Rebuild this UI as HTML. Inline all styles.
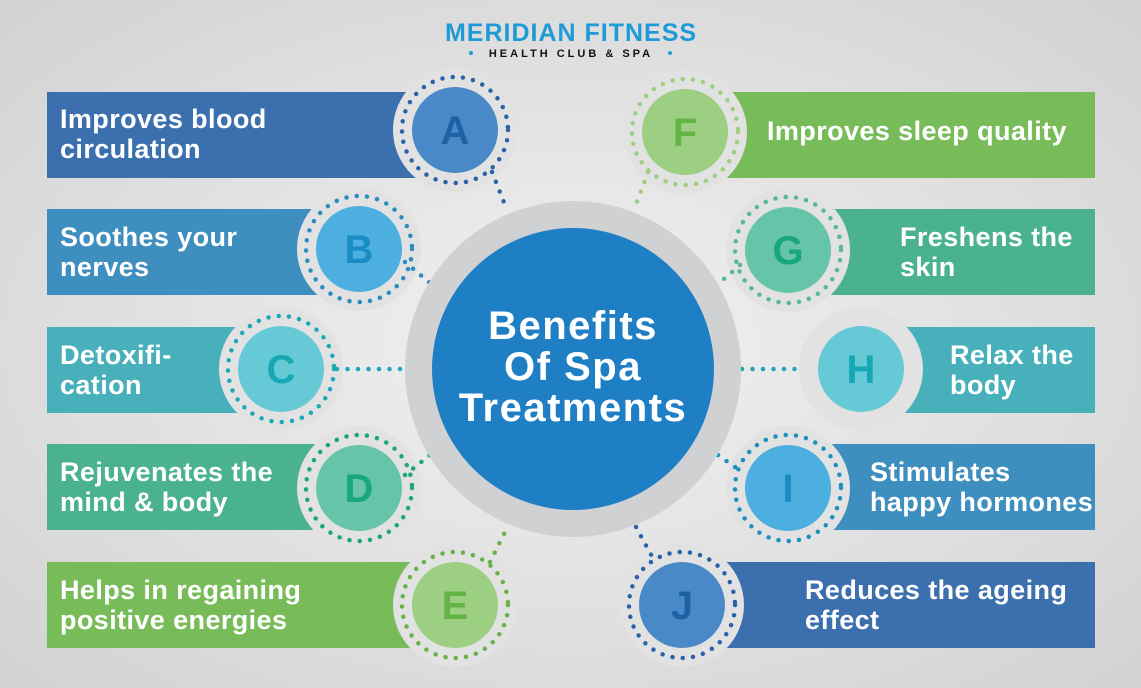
<!DOCTYPE html>
<html><head><meta charset="utf-8"><style>
html,body{margin:0;padding:0;width:1141px;height:688px;overflow:hidden}
svg{display:block}
.t{font-family:"Liberation Sans",sans-serif;font-weight:bold;fill:#fff;font-size:27px;letter-spacing:0.4px}
.L{font-family:"Liberation Sans",sans-serif;font-weight:bold;font-size:40px;text-anchor:middle}
</style></head><body>
<svg width="1141" height="688" viewBox="0 0 1141 688">
<defs>
<radialGradient id="bg" cx="50%" cy="50%" r="70%">
<stop offset="0" stop-color="#f2f2f2"/><stop offset="1" stop-color="#d2d2d2"/>
</radialGradient>
</defs>
<rect width="1141" height="688" fill="url(#bg)"/>
<text x="571" y="41" text-anchor="middle" font-family="Liberation Sans,sans-serif" font-weight="bold" font-size="25" fill="#1f9ad8" letter-spacing="1">MERIDIAN FITNESS</text>
<circle cx="471" cy="53" r="2" fill="#1f9ad8"/><circle cx="670" cy="53" r="2" fill="#1f9ad8"/>
<text x="571" y="57" text-anchor="middle" font-family="Liberation Sans,sans-serif" font-weight="bold" font-size="11" fill="#111" letter-spacing="3">HEALTH CLUB &amp; SPA</text>

<rect x="47" y="92" width="400" height="86" fill="#3b6fae"/>
<rect x="47" y="209" width="300" height="86" fill="#3e8fbf"/>
<rect x="47" y="327" width="230" height="86" fill="#48b0bb"/>
<rect x="47" y="444" width="300" height="86" fill="#4bb28e"/>
<rect x="47" y="562" width="400" height="86" fill="#77bc59"/>
<rect x="700" y="92" width="395" height="86" fill="#77bc59"/>
<rect x="800" y="209" width="295" height="86" fill="#4bb28e"/>
<rect x="870" y="327" width="225" height="86" fill="#48b0bb"/>
<rect x="800" y="444" width="295" height="86" fill="#3e8fbf"/>
<rect x="700" y="562" width="395" height="86" fill="#3b6fae"/>

<g fill="#e2e2e2">
<circle cx="455" cy="130" r="62"/><circle cx="359" cy="249" r="62"/><circle cx="281" cy="369" r="62"/>
<circle cx="359" cy="488" r="62"/><circle cx="455" cy="605" r="62"/>
<circle cx="685" cy="132" r="62"/><circle cx="788" cy="250" r="62"/><circle cx="861" cy="369" r="62"/>
<circle cx="788" cy="488" r="62"/><circle cx="682" cy="605" r="62"/>
</g>

<g fill="none" stroke-width="4.5" stroke-linecap="round" stroke-dasharray="0 10.5">
<path d="M492 172 L507 210" stroke="#2a62a8"/>
<path d="M405 262 L430 283" stroke="#2a8cc0"/>
<path d="M337 369 L405 369" stroke="#1aa9b7"/>
<path d="M405 475 L430 455" stroke="#1aa57f"/>
<path d="M490 562 L507 528" stroke="#66b347"/>
<path d="M648 172 L634 210" stroke="#9ccf80"/>
<path d="M740 265 L717 285" stroke="#55b896"/>
<path d="M742 369 L805 369" stroke="#1aa9b7"/>
<path d="M718 455 L742 472" stroke="#1a8fc0"/>
<path d="M636 527 L655 562" stroke="#2a62a8"/>
</g>

<circle cx="573" cy="369" r="168" fill="#d0d1d3"/>
<circle cx="573" cy="369" r="141" fill="#1f7fc4"/>
<text x="573" y="339" text-anchor="middle" font-family="Liberation Sans,sans-serif" font-weight="bold" font-size="40" letter-spacing="1.5" fill="#fff">Benefits</text>
<text x="573" y="380" text-anchor="middle" font-family="Liberation Sans,sans-serif" font-weight="bold" font-size="40" letter-spacing="1.5" fill="#fff">Of Spa</text>
<text x="573" y="421" text-anchor="middle" font-family="Liberation Sans,sans-serif" font-weight="bold" font-size="40" letter-spacing="1.5" fill="#fff">Treatments</text>

<g fill="none" stroke-width="4.5" stroke-linecap="round" stroke-dasharray="0 10.3">
<circle cx="455" cy="130" r="53" stroke="#2a62a8"/>
<circle cx="359" cy="249" r="53" stroke="#2a8cc0"/>
<circle cx="281" cy="369" r="53" stroke="#1aa9b7"/>
<circle cx="359" cy="488" r="53" stroke="#1aa57f"/>
<circle cx="455" cy="605" r="53" stroke="#66b347"/>
<circle cx="685" cy="132" r="53" stroke="#9ccf80"/>
<circle cx="788" cy="250" r="53" stroke="#55b896"/>
<circle cx="788" cy="488" r="53" stroke="#1a8fc0"/>
<circle cx="682" cy="605" r="53" stroke="#2a62a8"/>
</g>

<circle cx="455" cy="130" r="43" fill="#4a89c8"/>
<circle cx="359" cy="249" r="43" fill="#4daee0"/>
<circle cx="281" cy="369" r="43" fill="#66c9d6"/>
<circle cx="359" cy="488" r="43" fill="#66c4a8"/>
<circle cx="455" cy="605" r="43" fill="#9dcf82"/>
<circle cx="685" cy="132" r="43" fill="#9dcf82"/>
<circle cx="788" cy="250" r="43" fill="#66c4a8"/>
<circle cx="861" cy="369" r="43" fill="#66c9d6"/>
<circle cx="788" cy="488" r="43" fill="#4daee0"/>
<circle cx="682" cy="605" r="43" fill="#4a89c8"/>
<text class="L" x="455" y="144" fill="#1e62a6">A</text>
<text class="L" x="359" y="263" fill="#1a8cc4">B</text>
<text class="L" x="281" y="383" fill="#17a8b6">C</text>
<text class="L" x="359" y="502" fill="#18a77e">D</text>
<text class="L" x="455" y="619" fill="#64b346">E</text>
<text class="L" x="685" y="146" fill="#64b346">F</text>
<text class="L" x="788" y="264" fill="#18a77e">G</text>
<text class="L" x="861" y="383" fill="#17a8b6">H</text>
<text class="L" x="788" y="502" fill="#1a8cc4">I</text>
<text class="L" x="682" y="619" fill="#1e62a6">J</text>

<text class="t" x="60" y="128">Improves blood</text><text class="t" x="60" y="158">circulation</text>
<text class="t" x="60" y="246">Soothes your</text><text class="t" x="60" y="276">nerves</text>
<text class="t" x="60" y="364">Detoxifi-</text><text class="t" x="60" y="394">cation</text>
<text class="t" x="60" y="481">Rejuvenates the</text><text class="t" x="60" y="511">mind &amp; body</text>
<text class="t" x="60" y="599">Helps in regaining</text><text class="t" x="60" y="629">positive energies</text>
<text class="t" x="767" y="140">Improves sleep quality</text>
<text class="t" x="900" y="246">Freshens the</text><text class="t" x="900" y="276">skin</text>
<text class="t" x="950" y="364">Relax the</text><text class="t" x="950" y="394">body</text>
<text class="t" x="870" y="481">Stimulates</text><text class="t" x="870" y="511">happy hormones</text>
<text class="t" x="805" y="599">Reduces the ageing</text><text class="t" x="805" y="629">effect</text>
</svg>
</body></html>
